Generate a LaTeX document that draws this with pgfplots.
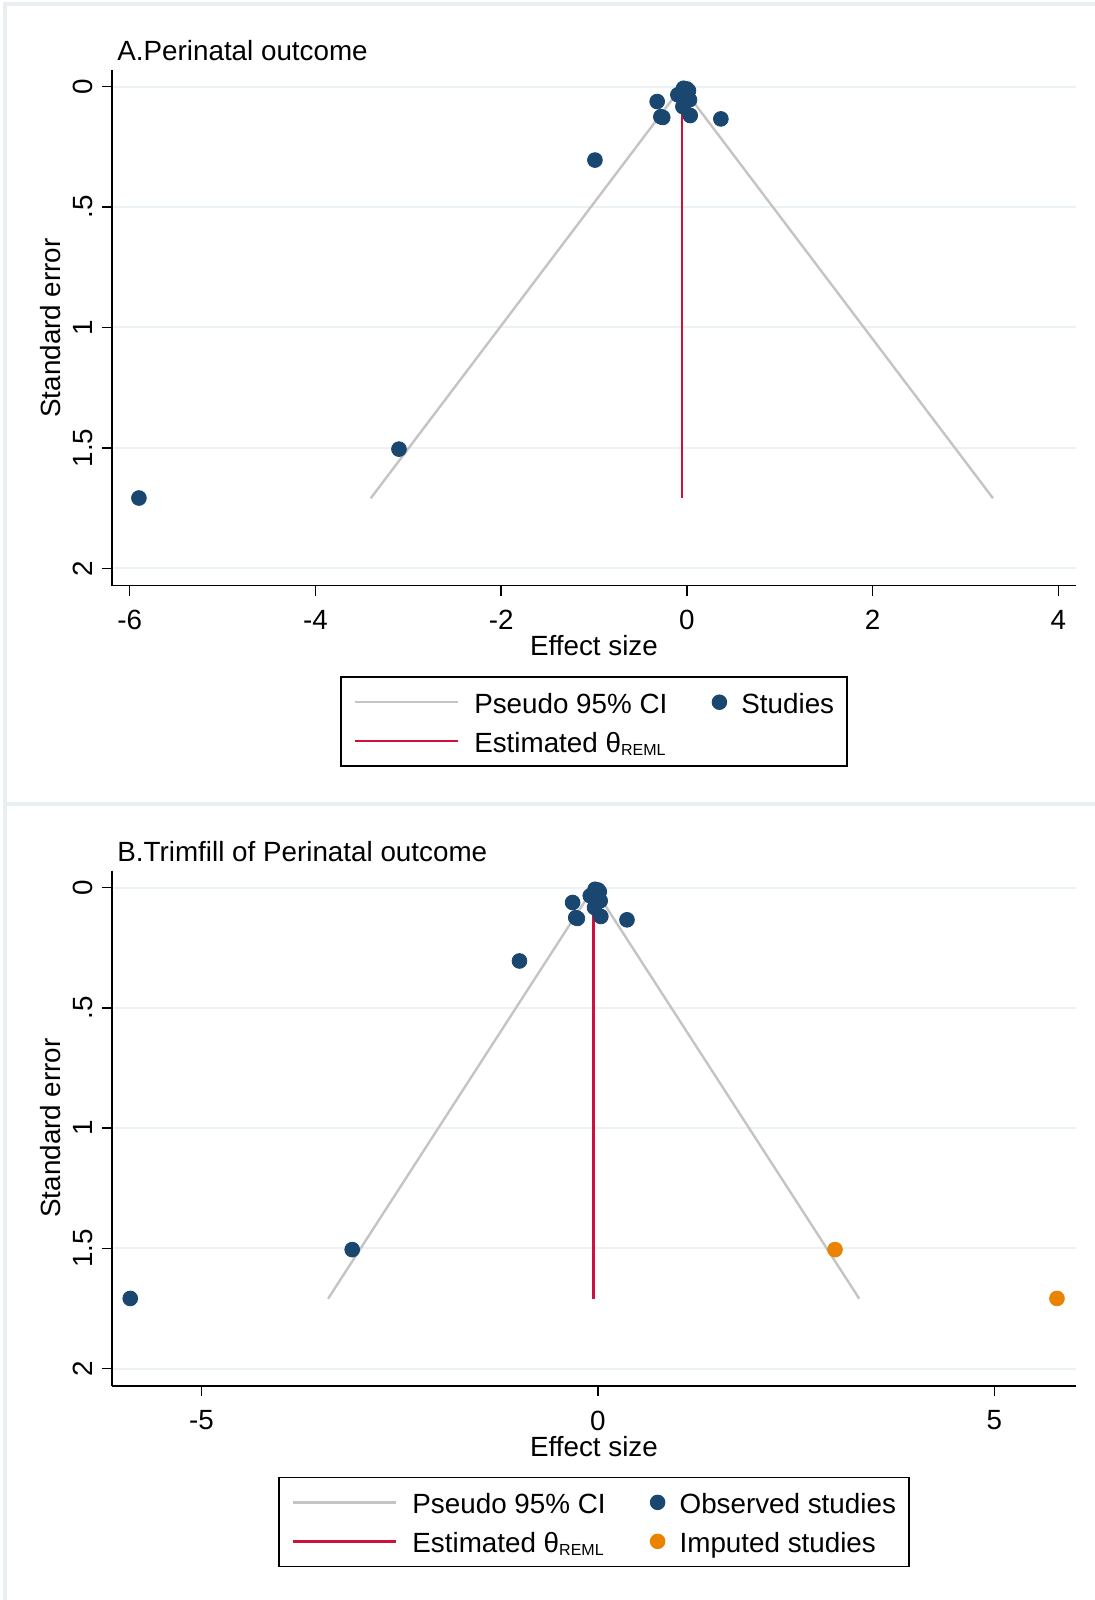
\documentclass[border=0pt]{standalone}
\usepackage{pgfplots}
\pgfplotsset{compat=1.18}
\usepackage{fontspec}
\setmainfont{Liberation Sans}
\definecolor{navy}{RGB}{26,71,111}
\definecolor{imporange}{RGB}{233,131,0}
\definecolor{thetared}{RGB}{204,18,60}
\definecolor{cigray}{RGB}{196,196,196}
\definecolor{gridc}{RGB}{234,242,243}
\definecolor{framec}{RGB}{232,239,241}
\newcommand{\reml}{\raisebox{-1.3pt}{\fontsize{8}{9}\selectfont REML}}
\pgfplotsset{
  funnelax/.style={
    scale only axis, width=482pt, anchor=south west,
    y dir=reverse, ymin=-0.069, ymax=2.072,
    axis x line*=bottom, axis y line*=left,
    axis line style={line width=0.75pt, black},
    tick style={line width=0.75pt, black},
    tick align=outside, major tick length=5pt,
    ytick={0,0.5,1,1.5,2}, yticklabels={0,.5,1,1.5,2},
    yticklabel style={rotate=90, anchor=south},
    xticklabel style={anchor=north, yshift=-2.5pt},
    ymajorgrids, grid style={gridc, line width=1pt},
    legend columns=2, legend cell align=left,
    legend style={at={(0.5,-0.176)}, anchor=north, draw=black, line width=0.75pt,
      inner xsep=6.5pt, inner ysep=4.25pt,
      nodes={inner sep=0pt, text height=14pt, text depth=2.5pt},
      /tikz/every odd column/.append style={column sep=7.5pt},
      /tikz/every even column/.append style={column sep=22.5pt},
      row sep=3pt},
  },
  lineleg/.style={legend image code/.code={\draw[##1] (-1pt,0pt) -- (50.5pt,0pt);}},
  markleg/.style={legend image code/.code={\draw[##1, mark size=3.5pt] plot coordinates {(0pt,0pt)};}},
}
\begin{document}
\fontsize{13.9}{16.5}\selectfont
\begin{tikzpicture}[x=0.5pt,y=0.5pt]
\path[use as bounding box] (0,0) rectangle (1094,1600);
% panel frames
\draw[framec, line width=2pt] (1110,1596) -- (5,1596) -- (5,-10);
\draw[framec, line width=2pt] (5,796) -- (1110,796);
% titles
\node[anchor=base west, inner sep=0pt] at (117,1539) {A.Perinatal outcome};
\node[anchor=base west, inner sep=0pt] at (117,738) {B.Trimfill of Perinatal outcome};
\node[rotate=90, inner sep=0pt] at (51,1272) {Standard error};
\node[rotate=90, inner sep=0pt] at (51,472) {Standard error};
\node[anchor=base, inner sep=0pt] at (594,944) {Effect size};
\node[anchor=base, inner sep=0pt] at (594,143) {Effect size};

% Panel A
\begin{axis}[funnelax, at={(56pt,507.15pt)}, height=257.85pt,
  xmin=-6.19, xmax=4.19, xtick={-6,-4,-2,0,2,4}, xticklabels={-6,-4,-2,0,2,4}]
\addplot[cigray, line width=1.2pt, lineleg] coordinates {(-3.404,1.709) (-0.054,0) (3.296,1.709)};
\addlegendentry{Pseudo 95\% CI}
\addplot[only marks, mark=*, mark size=3.7pt, draw=navy, fill=navy, markleg] coordinates {
(-5.90,1.708) (-3.10,1.505) (-0.99,0.305) (-0.32,0.062) (-0.28,0.125) (-0.26,0.128)
(0.036,0.120) (0.366,0.134) (-0.097,0.034) (-0.036,0.007) (0.017,0.017) (0.028,0.055)
(-0.043,0.083) (0.0,0.010)};
\addlegendentry{Studies}
\addplot[thetared, line width=1.2pt, lineleg] coordinates {(-0.054,0) (-0.054,1.709)};
\addlegendentry{Estimated θ\reml}
\end{axis}

% Panel B
\begin{axis}[funnelax, at={(56pt,107pt)}, height=257.5pt,
  xmin=-6.13, xmax=6.03, xtick={-5,0,5}, xticklabels={-5,0,5}]
\addplot[cigray, line width=1.2pt, lineleg] coordinates {(-3.404,1.709) (-0.054,0) (3.296,1.709)};
\addlegendentry{Pseudo 95\% CI}
\addplot[only marks, mark=*, mark size=3.7pt, draw=navy, fill=navy, markleg] coordinates {
(-5.90,1.708) (-3.10,1.505) (-0.99,0.305) (-0.32,0.062) (-0.28,0.125) (-0.26,0.128)
(0.036,0.120) (0.366,0.134) (-0.097,0.034) (-0.036,0.007) (0.017,0.017) (0.028,0.055)
(-0.043,0.083) (0.0,0.010)};
\addlegendentry{Observed studies}
\addplot[thetared, line width=1.2pt, lineleg] coordinates {(-0.054,0) (-0.054,1.709)};
\addlegendentry{Estimated θ\reml}
\addplot[only marks, mark=*, mark size=3.7pt, draw=imporange, fill=imporange, markleg] coordinates {
(2.99,1.505) (5.79,1.708)};
\addlegendentry{Imputed studies}
\end{axis}
\end{tikzpicture}
\end{document}
